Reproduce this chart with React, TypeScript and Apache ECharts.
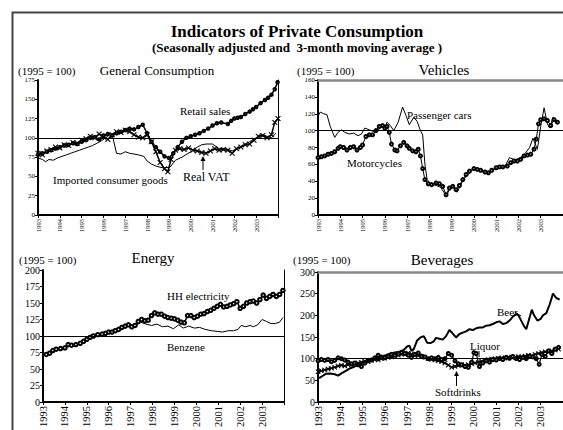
import React, { useEffect, useRef } from "react";
import * as echarts from "echarts";

const FONT = '"Liberation Serif", "Times New Roman", serif';

// ---- Data (year, index 1995 = 100) ----
const retailSales: [number, number][] = [
  [1993.0, 78], [1993.2, 80], [1993.4, 82], [1993.6, 84], [1993.8, 86], [1994.0, 88], [1994.2, 90], [1994.4, 91],
  [1994.6, 93], [1994.8, 92], [1995.0, 95], [1995.2, 97], [1995.4, 100], [1995.6, 101], [1995.8, 98], [1996.0, 103],
  [1996.2, 105], [1996.4, 103], [1996.6, 106], [1996.8, 108], [1997.0, 110], [1997.2, 112], [1997.4, 111], [1997.6, 114],
  [1997.8, 117], [1998.0, 106], [1998.2, 95], [1998.4, 88], [1998.6, 82], [1998.8, 76], [1999.0, 74], [1999.2, 80],
  [1999.4, 88], [1999.6, 95], [1999.8, 100], [2000.0, 102], [2000.2, 104], [2000.4, 106], [2000.6, 109], [2000.8, 112],
  [2001.0, 116], [2001.2, 119], [2001.4, 120], [2001.7, 118], [2001.85, 122], [2002.0, 125], [2002.15, 126], [2002.3, 127],
  [2002.5, 131], [2002.7, 134], [2002.85, 137], [2003.0, 140], [2003.2, 145], [2003.4, 149], [2003.55, 152], [2003.7, 156],
  [2003.85, 163], [2003.98, 172],
];
const realVAT: [number, number][] = [
  [1993.0, 80], [1993.2, 78], [1993.4, 83], [1993.6, 85], [1993.8, 88], [1994.0, 87], [1994.2, 91], [1994.4, 90],
  [1994.6, 94], [1994.8, 93], [1995.0, 97], [1995.2, 99], [1995.4, 102], [1995.6, 100], [1995.8, 105], [1996.0, 101],
  [1996.2, 98], [1996.4, 104], [1996.6, 108], [1996.8, 107], [1997.0, 110], [1997.2, 108], [1997.4, 104], [1997.6, 101],
  [1997.8, 100], [1998.0, 104], [1998.2, 95], [1998.4, 82], [1998.6, 68], [1998.8, 60], [1998.95, 56], [1999.1, 72],
  [1999.3, 84], [1999.5, 86], [1999.7, 85], [1999.9, 87], [2000.1, 84], [2000.3, 83], [2000.5, 81], [2000.7, 80],
  [2000.9, 83], [2001.1, 86], [2001.3, 84], [2001.5, 85], [2001.7, 84], [2001.9, 80], [2002.1, 86], [2002.3, 88],
  [2002.5, 91], [2002.7, 92], [2002.9, 97], [2003.1, 102], [2003.3, 103], [2003.5, 100], [2003.7, 104], [2003.85, 120],
  [2004.0, 125],
];
const importedGoods: [number, number][] = [
  [1993.0, 74], [1993.2, 72], [1993.35, 69], [1993.5, 72], [1993.7, 71], [1993.9, 74], [1994.1, 76], [1994.3, 78],
  [1994.5, 80], [1994.7, 82], [1994.9, 84], [1995.1, 86], [1995.3, 88], [1995.5, 90], [1995.7, 93], [1995.9, 96],
  [1996.1, 100], [1996.3, 105], [1996.45, 98], [1996.6, 80], [1996.8, 79], [1997.0, 82], [1997.2, 80], [1997.4, 79],
  [1997.6, 78], [1997.85, 76], [1998.0, 70], [1998.2, 66], [1998.45, 63], [1998.75, 61], [1999.05, 62], [1999.3, 71],
  [1999.6, 75], [2000.0, 82], [2000.3, 88], [2000.5, 91], [2000.7, 92], [2001.0, 92], [2001.3, 86], [2001.5, 86],
  [2001.7, 85], [2001.9, 83], [2002.1, 86], [2002.3, 89], [2002.5, 92], [2002.7, 95], [2002.9, 98], [2003.1, 101],
  [2003.3, 104], [2003.5, 102], [2003.7, 100], [2003.9, 106],
];

const passengerCars: [number, number][] = [
  [1993.0, 117], [1993.1, 122], [1993.25, 120], [1993.4, 119], [1993.55, 105], [1993.75, 92], [1993.9, 98], [1994.05, 101],
  [1994.2, 98], [1994.4, 96], [1994.6, 97], [1994.8, 94], [1994.95, 96], [1995.1, 103], [1995.3, 101], [1995.5, 99],
  [1995.7, 101], [1995.85, 104], [1996.0, 103], [1996.1, 110], [1996.25, 106], [1996.4, 100], [1996.6, 110], [1996.8, 128],
  [1996.95, 118], [1997.1, 107], [1997.3, 116], [1997.45, 111], [1997.6, 100], [1997.7, 95], [1997.8, 60], [1997.9, 42],
  [1998.05, 37], [1998.3, 35], [1998.5, 33], [1998.65, 27], [1998.75, 22], [1998.9, 30], [1999.05, 35], [1999.25, 27],
  [1999.45, 38], [1999.6, 44], [1999.8, 50], [2000.0, 55], [2000.2, 53], [2000.5, 50], [2000.7, 50], [2001.0, 56],
  [2001.2, 57], [2001.4, 58], [2001.6, 68], [2001.85, 65], [2002.1, 68], [2002.3, 73], [2002.5, 80], [2002.65, 91],
  [2002.85, 78], [2003.0, 105], [2003.15, 127], [2003.3, 108], [2003.4, 103], [2003.55, 116], [2003.7, 110],
];
const motorcycles: [number, number][] = [
  [1993.0, 68], [1993.15, 69], [1993.3, 70], [1993.45, 72], [1993.6, 73], [1993.75, 75], [1993.9, 79], [1994.0, 81],
  [1994.15, 80], [1994.3, 77], [1994.45, 80], [1994.6, 81], [1994.75, 77], [1994.9, 80], [1995.0, 83], [1995.15, 93],
  [1995.3, 95], [1995.45, 95], [1995.6, 100], [1995.75, 105], [1995.9, 106], [1996.0, 103], [1996.1, 105], [1996.2, 98],
  [1996.3, 84], [1996.45, 77], [1996.55, 76], [1996.7, 82], [1996.85, 86], [1997.0, 82], [1997.1, 79], [1997.25, 76],
  [1997.4, 75], [1997.5, 78], [1997.6, 70], [1997.7, 55], [1997.8, 42], [1997.95, 37], [1998.1, 36], [1998.3, 38],
  [1998.45, 37], [1998.6, 34], [1998.75, 24], [1998.9, 32], [1999.05, 34], [1999.2, 30], [1999.35, 35], [1999.5, 42],
  [1999.65, 48], [1999.8, 52], [2000.0, 55], [2000.15, 54], [2000.3, 53], [2000.5, 51], [2000.65, 50], [2000.8, 53],
  [2001.0, 56], [2001.15, 57], [2001.3, 57], [2001.5, 58], [2001.65, 62], [2001.8, 64], [2001.95, 64], [2002.1, 66],
  [2002.25, 70], [2002.4, 71], [2002.55, 72], [2002.7, 78], [2002.8, 90], [2002.9, 108], [2003.0, 113], [2003.15, 114],
  [2003.3, 112], [2003.45, 106], [2003.6, 113], [2003.75, 110],
];

const hhElectricity: [number, number][] = [
  [1993.15, 72], [1993.3, 74], [1993.45, 78], [1993.6, 80], [1993.8, 81], [1994.0, 82], [1994.15, 87], [1994.3, 86],
  [1994.5, 87], [1994.7, 89], [1994.85, 92], [1995.0, 95], [1995.15, 98], [1995.3, 100], [1995.5, 102], [1995.7, 103],
  [1995.85, 104], [1996.0, 106], [1996.15, 106], [1996.3, 108], [1996.45, 110], [1996.6, 113], [1996.75, 115], [1996.9, 117],
  [1997.05, 114], [1997.2, 116], [1997.35, 122], [1997.5, 125], [1997.65, 123], [1997.8, 124], [1997.95, 131], [1998.1, 135],
  [1998.25, 133], [1998.4, 133], [1998.55, 130], [1998.7, 128], [1998.85, 127], [1999.0, 126], [1999.15, 124], [1999.3, 121],
  [1999.45, 120], [1999.6, 131], [1999.75, 131], [1999.9, 128], [2000.05, 130], [2000.2, 133], [2000.35, 134], [2000.5, 137],
  [2000.65, 139], [2000.8, 142], [2000.95, 145], [2001.1, 148], [2001.25, 144], [2001.4, 145], [2001.55, 147], [2001.7, 149],
  [2001.85, 152], [2002.0, 142], [2002.15, 145], [2002.3, 150], [2002.45, 152], [2002.6, 153], [2002.75, 150], [2002.9, 155],
  [2003.05, 162], [2003.2, 157], [2003.35, 160], [2003.5, 163], [2003.65, 160], [2003.8, 163], [2003.95, 169],
];
const benzene: [number, number][] = [
  [1993.15, 71], [1993.4, 76], [1993.7, 80], [1994.0, 82], [1994.2, 85], [1994.5, 86], [1994.8, 90], [1995.0, 94],
  [1995.3, 99], [1995.6, 102], [1995.9, 104], [1996.2, 106], [1996.5, 110], [1996.8, 115], [1997.0, 115], [1997.2, 114],
  [1997.45, 121], [1997.7, 118], [1997.95, 116], [1998.2, 118], [1998.45, 114], [1998.7, 115], [1998.95, 111], [1999.2, 117],
  [1999.4, 112], [1999.65, 115], [1999.9, 112], [2000.15, 113], [2000.4, 110], [2000.7, 108], [2000.95, 107], [2001.2, 106],
  [2001.45, 108], [2001.7, 108], [2001.9, 110], [2002.05, 116], [2002.25, 114], [2002.45, 116], [2002.6, 114], [2002.8, 117],
  [2003.0, 125], [2003.2, 122], [2003.4, 119], [2003.6, 119], [2003.8, 121], [2003.95, 128],
];

const beer: [number, number][] = [
  [1993.05, 55], [1993.2, 60], [1993.35, 65], [1993.55, 66], [1993.75, 64], [1993.9, 61], [1994.05, 66], [1994.25, 72],
  [1994.45, 78], [1994.65, 82], [1994.85, 88], [1995.05, 92], [1995.25, 95], [1995.45, 98], [1995.65, 102], [1995.85, 105],
  [1996.05, 108], [1996.25, 112], [1996.45, 114], [1996.65, 116], [1996.85, 120], [1997.0, 128], [1997.1, 130], [1997.2, 118],
  [1997.3, 122], [1997.45, 142], [1997.6, 149], [1997.75, 152], [1997.9, 137], [1998.05, 136], [1998.2, 140], [1998.3, 148],
  [1998.45, 146], [1998.6, 144], [1998.75, 152], [1998.9, 166], [1999.05, 158], [1999.2, 149], [1999.35, 157], [1999.5, 160],
  [1999.65, 163], [1999.8, 168], [1999.95, 166], [2000.1, 170], [2000.25, 172], [2000.4, 172], [2000.55, 176], [2000.7, 177],
  [2000.85, 180], [2001.0, 184], [2001.15, 186], [2001.3, 180], [2001.45, 182], [2001.6, 188], [2001.75, 197], [2001.9, 203],
  [2002.0, 200], [2002.1, 190], [2002.25, 175], [2002.35, 168], [2002.5, 195], [2002.6, 213], [2002.7, 200], [2002.85, 188],
  [2003.0, 192], [2003.1, 200], [2003.25, 205], [2003.4, 225], [2003.55, 250], [2003.7, 240], [2003.85, 236],
];
const liquor: [number, number][] = [
  [1993.0, 95], [1993.15, 98], [1993.3, 96], [1993.45, 98], [1993.6, 93], [1993.75, 96], [1993.9, 102], [1994.05, 100],
  [1994.2, 97], [1994.35, 92], [1994.5, 88], [1994.65, 90], [1994.8, 86], [1994.95, 82], [1995.1, 90], [1995.25, 95],
  [1995.4, 97], [1995.55, 102], [1995.7, 108], [1995.85, 104], [1996.0, 102], [1996.15, 106], [1996.3, 110], [1996.45, 108],
  [1996.6, 111], [1996.75, 114], [1996.9, 112], [1997.05, 108], [1997.2, 103], [1997.35, 110], [1997.5, 113], [1997.65, 106],
  [1997.8, 104], [1997.95, 100], [1998.1, 102], [1998.25, 100], [1998.4, 103], [1998.55, 98], [1998.7, 100], [1998.85, 112],
  [1999.0, 108], [1999.15, 95], [1999.3, 88], [1999.45, 86], [1999.6, 82], [1999.75, 80], [1999.9, 92], [2000.0, 114],
  [2000.1, 112], [2000.25, 82], [2000.4, 90], [2000.55, 95], [2000.7, 92], [2000.85, 98], [2001.0, 97], [2001.15, 100],
  [2001.3, 98], [2001.45, 103], [2001.6, 101], [2001.75, 105], [2001.9, 100], [2002.05, 98], [2002.2, 103], [2002.35, 100],
  [2002.5, 106], [2002.65, 104], [2002.8, 100], [2002.93, 87], [2003.05, 110], [2003.2, 105], [2003.35, 118], [2003.5, 112],
  [2003.65, 122], [2003.8, 126],
];
const softdrinks: [number, number][] = [
  [1993.0, 70], [1993.15, 72], [1993.3, 74], [1993.45, 76], [1993.6, 78], [1993.75, 80], [1993.9, 83], [1994.05, 85],
  [1994.2, 83], [1994.35, 86], [1994.5, 88], [1994.65, 87], [1994.8, 90], [1994.95, 92], [1995.1, 94], [1995.25, 93],
  [1995.4, 96], [1995.55, 98], [1995.7, 97], [1995.85, 100], [1996.0, 101], [1996.15, 103], [1996.3, 104], [1996.45, 106],
  [1996.6, 108], [1996.75, 110], [1996.9, 111], [1997.05, 113], [1997.2, 111], [1997.35, 108], [1997.5, 107], [1997.65, 105],
  [1997.8, 103], [1997.95, 100], [1998.1, 98], [1998.25, 97], [1998.4, 95], [1998.55, 93], [1998.7, 90], [1998.85, 85],
  [1999.0, 80], [1999.15, 82], [1999.3, 84], [1999.45, 86], [1999.6, 85], [1999.75, 86], [1999.9, 88], [2000.05, 90],
  [2000.2, 92], [2000.35, 94], [2000.5, 96], [2000.65, 98], [2000.8, 99], [2000.95, 100], [2001.1, 101], [2001.25, 102],
  [2001.4, 101], [2001.55, 103], [2001.7, 104], [2001.85, 103], [2002.0, 105], [2002.15, 104], [2002.3, 106], [2002.45, 108],
  [2002.6, 107], [2002.75, 110], [2002.9, 112], [2003.05, 114], [2003.2, 116], [2003.35, 115], [2003.5, 118], [2003.65, 120],
  [2003.8, 122],
];

const yearMin = 1993;
const yearMax = 2004;
const baseLine = 100;

const X_MARK = "path://M0,1L1,0L5,4L9,0L10,1L6,5L10,9L9,10L5,6L1,10L0,9L4,5Z";

function xAxis(gridIndex: number, fontSize: number) {
  return {
    type: "value",
    gridIndex,
    min: yearMin,
    max: yearMax,
    interval: 1,
    axisLine: { show: true, onZero: false, lineStyle: { color: "#000", width: 2 } },
    axisTick: { show: true, length: 3, lineStyle: { color: "#000", width: 1 } },
    axisLabel: {
      rotate: 90,
      fontSize,
      fontFamily: FONT,
      color: "#000",
      margin: 4,
      formatter: (v: number) => (v >= yearMax ? "" : String(v)),
    },
    splitLine: { show: false },
  };
}
function topBorderAxis(gridIndex: number) {
  return {
    type: "value",
    gridIndex,
    position: "top",
    min: yearMin,
    max: yearMax,
    axisLine: { show: true, onZero: false, lineStyle: { color: "#8a8a8a", width: 2.5 } },
    axisTick: { show: false },
    axisLabel: { show: false },
    splitLine: { show: false },
  };
}
function yAxis(gridIndex: number, max: number, interval: number, fontSize: number) {
  return {
    type: "value",
    gridIndex,
    position: "left",
    min: 0,
    max,
    interval,
    axisLine: { show: true, onZero: false, lineStyle: { color: "#000", width: 2 } },
    axisTick: { show: true, length: 3, lineStyle: { color: "#000", width: 1 } },
    axisLabel: { fontSize, fontFamily: FONT, color: "#000", margin: 3 },
    splitLine: { show: false },
  };
}
function rightBorderAxis(gridIndex: number, max: number) {
  return {
    type: "value",
    gridIndex,
    position: "right",
    min: 0,
    max,
    axisLine: { show: true, onZero: false, lineStyle: { color: "#000", width: 1 } },
    axisTick: { show: false },
    axisLabel: { show: false },
    splitLine: { show: false },
  };
}

const hundredLine = {
  silent: true,
  symbol: "none",
  label: { show: false },
  lineStyle: { color: "#000", width: 1, type: "solid" },
  data: [{ yAxis: baseLine }],
};

function lineSeries(name: string, data: [number, number][], idx: number, opts: any = {}) {
  const s: any = {
    type: "line",
    name,
    data,
    xAxisIndex: idx,
    yAxisIndex: idx,
    showSymbol: !!opts.symbol,
    showAllSymbol: true,
    symbol: opts.symbol || "none",
    symbolSize: opts.symbolSize || 4,
    lineStyle: { color: "#000", width: opts.width || 1 },
    itemStyle: opts.empty
      ? { color: "#000", borderWidth: opts.borderWidth ?? 1 }
      : { color: "#000", borderColor: "#000", borderWidth: opts.borderWidth ?? 0.5 },
    z: opts.z || 2,
  };
  if (opts.markLine) s.markLine = hundredLine;
  return s;
}

function txt(text: string, x: number, y: number, size: number, align = "left", weight = "normal") {
  return {
    type: "text",
    x,
    y,
    silent: true,
    style: {
      text,
      fill: "#000",
      font: `${weight} ${size}px ${FONT}`,
      textAlign: align,
      textVerticalAlign: "middle",
    },
  };
}
function seg(x1: number, y1: number, x2: number, y2: number) {
  return { type: "line", silent: true, shape: { x1, y1, x2, y2 }, style: { stroke: "#000", lineWidth: 1 } };
}
function arrowUp(x: number, yTip: number, yTail: number) {
  return [
    seg(x, yTail, x, yTip + 4),
    {
      type: "polygon",
      silent: true,
      shape: { points: [[x, yTip], [x - 2.5, yTip + 5], [x + 2.5, yTip + 5]] },
      style: { fill: "#000" },
    },
  ];
}

export default function App() {
  const ref = useRef<HTMLDivElement>(null);
  useEffect(() => {
    if (!ref.current) return;
    const chart = echarts.init(ref.current, null, { renderer: "svg" });
    const option: any = {
      animation: false,
      backgroundColor: "#fff",
      grid: [
        { left: 38, top: 80, width: 240, height: 135 },
        { left: 318, top: 80, width: 252, height: 135 },
        { left: 43, top: 270, width: 241, height: 133 },
        { left: 318, top: 272, width: 253, height: 131 },
      ],
      xAxis: [
        xAxis(0, 6.5),
        xAxis(1, 6.5),
        xAxis(2, 10.5),
        xAxis(3, 10.5),
        topBorderAxis(1),
        topBorderAxis(3),
      ],
      yAxis: [
        yAxis(0, 175, 25, 7),
        yAxis(1, 160, 20, 7),
        yAxis(2, 200, 25, 10),
        yAxis(3, 300, 50, 10),
        rightBorderAxis(0, 175),
        rightBorderAxis(2, 200),
      ],
      series: [
        lineSeries("Imported consumer goods", importedGoods, 0, { width: 1, markLine: true }),
        lineSeries("Real VAT", realVAT, 0, { width: 1.5, symbol: X_MARK, symbolSize: 5, z: 3 }),
        lineSeries("Retail sales", retailSales, 0, { width: 1.5, symbol: "emptyCircle", symbolSize: 2.5, empty: true, borderWidth: 0.8, z: 4 }),

        lineSeries("Passenger cars", passengerCars, 1, { width: 1, markLine: true }),
        lineSeries("Motorcycles", motorcycles, 1, { width: 1, symbol: "emptyCircle", symbolSize: 3, empty: true, borderWidth: 0.8, z: 3 }),

        lineSeries("Benzene", benzene, 2, { width: 1, markLine: true }),
        lineSeries("HH electricity", hhElectricity, 2, { width: 1.5, symbol: "emptyCircle", symbolSize: 3.5, empty: true, borderWidth: 0.9, z: 3 }),

        lineSeries("Softdrinks", softdrinks, 3, { width: 1.5, symbol: X_MARK, symbolSize: 4.5, markLine: true }),
        lineSeries("Liquor", liquor, 3, { width: 1.2, symbol: "emptyCircle", symbolSize: 3, empty: true, borderWidth: 0.8, z: 3 }),
        lineSeries("Beer", beer, 3, { width: 2, z: 4 }),
      ],
      graphic: [
        {
          type: "rect",
          silent: true,
          shape: { x: 12.5, y: 12.5, width: 700, height: 600 },
          style: { fill: "none", stroke: "#444", lineWidth: 2 },
          z: 100,
        },
        txt("Indicators of Private Consumption", 297, 31, 17, "center", "bold"),
        txt("(Seasonally adjusted and  3-month moving average )", 297, 47, 13, "center", "bold"),

        txt("(1995 = 100)", 18, 71, 11),
        txt("General Consumption", 157, 70, 13, "center"),
        txt("(1995 = 100)", 297, 71, 11),
        txt("Vehicles", 444, 70, 15, "center"),
        txt("(1995 = 100)", 19, 260, 11),
        txt("Energy", 153, 258, 15, "center"),
        txt("(1995 = 100)", 293, 260, 11),
        txt("Beverages", 442, 260, 15, "center"),

        txt("Retail sales", 180, 111, 11),
        txt("Imported consumer goods", 53, 180, 11),
        txt("Real VAT", 183, 177, 12),
        ...arrowUp(203, 156, 170),

        txt("Passenger cars", 407, 115, 11),
        txt("Motorcycles", 347, 163, 11),

        txt("HH electricity", 167, 296, 11),
        txt("Benzene", 167, 347, 11),

        txt("Beer", 497, 312, 11),
        seg(515, 312, 521, 316),
        txt("Liquor", 470, 346, 11),
        seg(479, 351, 479, 357),
        txt("Softdrinks", 435, 392, 11),
        ...arrowUp(456.5, 371, 386),
      ],
    };
    chart.setOption(option);
    return () => chart.dispose();
  }, []);
  return (
    <div
      ref={ref}
      style={{ position: "fixed", left: 0, top: 0, width: 563, height: 430, background: "#fff" }}
    />
  );
}
